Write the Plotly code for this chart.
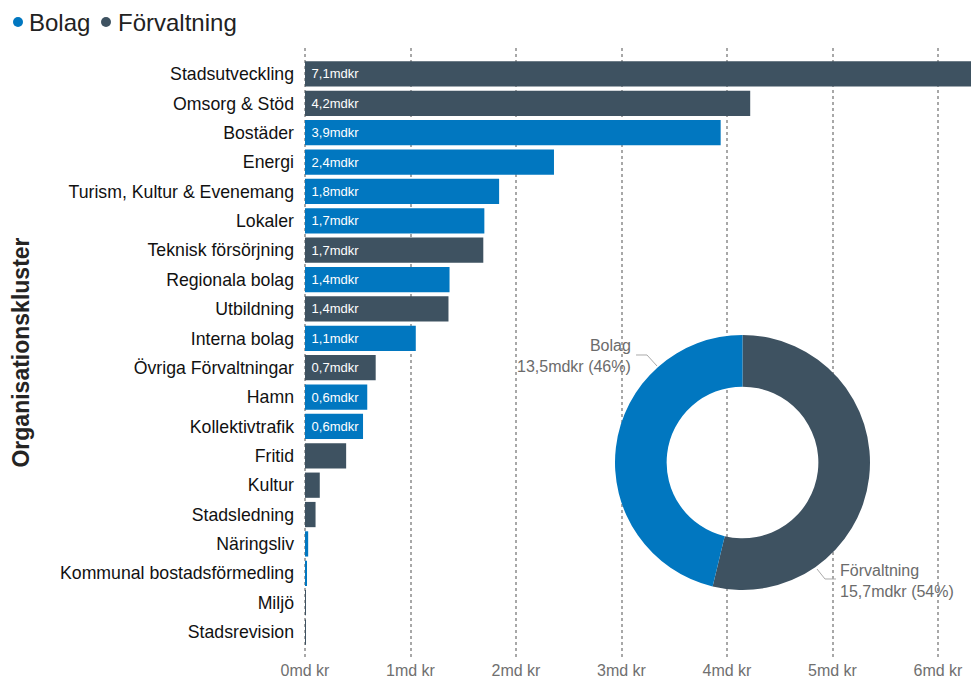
import plotly.graph_objects as go

# ---- data ----
categories = ["Stadsutveckling", "Omsorg & Stöd", "Bostäder", "Energi",
              "Turism, Kultur & Evenemang", "Lokaler", "Teknisk försörjning",
              "Regionala bolag", "Utbildning", "Interna bolag",
              "Övriga Förvaltningar", "Hamn", "Kollektivtrafik", "Fritid",
              "Kultur", "Stadsledning", "Näringsliv",
              "Kommunal bostadsförmedling", "Miljö", "Stadsrevision"]
values = [7.10, 4.22, 3.94, 2.36, 1.84, 1.70, 1.69, 1.37, 1.36, 1.05,
          0.67, 0.59, 0.55, 0.39, 0.14, 0.10, 0.03, 0.015, 0.008, 0.003]
types = ["Förvaltning", "Förvaltning", "Bolag", "Bolag", "Bolag", "Bolag",
         "Förvaltning", "Bolag", "Förvaltning", "Bolag", "Förvaltning",
         "Bolag", "Bolag", "Förvaltning", "Förvaltning", "Förvaltning",
         "Bolag", "Bolag", "Förvaltning", "Förvaltning"]
bar_labels = ["7,1mdkr", "4,2mdkr", "3,9mdkr", "2,4mdkr", "1,8mdkr", "1,7mdkr",
              "1,7mdkr", "1,4mdkr", "1,4mdkr", "1,1mdkr", "0,7mdkr", "0,6mdkr",
              "0,6mdkr", "", "", "", "", "", "", ""]
tick_vals = [0, 1, 2, 3, 4, 5, 6]
tick_text = ["0md kr", "1md kr", "2md kr", "3md kr", "4md kr", "5md kr", "6md kr"]

legend_names = ["Bolag", "Förvaltning"]
donut_labels = ["Förvaltning", "Bolag"]
donut_values = [15.7, 13.5]
donut_text = {"Bolag": "13,5mdkr (46%)", "Förvaltning": "15,7mdkr (54%)"}

colors = {"Bolag": "#0177C0", "Förvaltning": "#3E5261"}

FONT = "Liberation Sans, Arial, sans-serif"
OFF = 8                      # page body margin offset
PAD = 3                      # px left of zero so the 0 gridline shows
W, H = 979 - OFF, 681 - OFF
ML, MR, MT, MB = 305 - PAD - OFF, 0, 48 - OFF, 24
PW, PH = W - ML - MR, H - MT - MB
X0 = -PAD / 105.5


def px(x, y):
    """screen pixel -> paper coordinates (for annotations/decoration)"""
    x, y = x - OFF, y - OFF
    return (x - ML) / PW, 1 - (y - MT) / PH


fig = go.Figure()

fig.add_trace(go.Bar(
    y=categories, x=values, orientation="h",
    marker=dict(color=[colors[t] for t in types], line=dict(width=0)),
    width=0.86,
    text=["\u00a0" + t if t else "" for t in bar_labels],
    textposition="inside", insidetextanchor="start",
    textfont=dict(color="white", size=13, family=FONT),
    cliponaxis=True, showlegend=False, hoverinfo="x+y",
))

# donut inset
cx, cy = px(742.5, 462.5)
rx, ry = 127.5 / PW, 127.5 / PH
fig.add_trace(go.Pie(
    labels=donut_labels, values=donut_values, hole=0.595, sort=False,
    direction="clockwise", rotation=0,
    marker=dict(colors=[colors[l] for l in donut_labels], line=dict(width=0)),
    textinfo="none", showlegend=False,
    domain=dict(x=[cx - rx, cx + rx], y=[cy - ry, cy + ry]),
))

# donut labels
bx, by = px(633, 356)
fig.add_annotation(x=bx, y=by, xref="paper", yref="paper", xanchor="right",
                   yanchor="middle", align="right", showarrow=False,
                   text=f"Bolag<br>{donut_text['Bolag']}",
                   font=dict(size=16, color="#6b6b6b", family=FONT))
fx, fy = px(838, 581)
fig.add_annotation(x=fx, y=fy, xref="paper", yref="paper", xanchor="left",
                   yanchor="middle", align="left", showarrow=False,
                   text=f"Förvaltning<br>{donut_text['Förvaltning']}",
                   font=dict(size=16, color="#6b6b6b", family=FONT))


# leader lines
def path(points):
    pts = [px(*p) for p in points]
    return "M " + " L ".join(f"{a:.4f},{b:.4f}" for a, b in pts)


for pts in ([(636, 355), (647, 355), (657, 366)],
            [(817, 569), (825, 579), (836, 579)]):
    fig.add_shape(type="path", xref="paper", yref="paper", path=path(pts),
                  line=dict(color="#aaaaaa", width=1))

# legend (dot + label)
for name, dot_x, text_x in zip(legend_names, [18, 106], [27, 116]):
    x0, y0 = px(dot_x - 5, 17)
    x1, y1 = px(dot_x + 5, 27)
    fig.add_shape(type="circle", xref="paper", yref="paper",
                  x0=x0, x1=x1, y0=y1, y1=y0,
                  fillcolor=colors[name], line=dict(width=0))
    tx, ty = px(text_x, 22)
    fig.add_annotation(x=tx, y=ty, xref="paper", yref="paper",
                       xanchor="left", yanchor="middle", showarrow=False,
                       text=name, font=dict(size=24, color="#222222",
                                            family=FONT))

fig.update_layout(
    width=W, height=H,
    margin=dict(l=ML, r=MR, t=MT, b=MB, autoexpand=False),
    paper_bgcolor="white", plot_bgcolor="white",
    font=dict(family=FONT, color="#222222"),
    uniformtext=dict(minsize=13, mode="show"),
    showlegend=False,
    xaxis=dict(range=[X0, X0 + PW / 105.5], tickvals=tick_vals,
               ticktext=tick_text,
               showgrid=True, gridcolor="#a8a8a8", griddash="dot",
               gridwidth=1.5, zeroline=False, showline=False,
               tickfont=dict(size=16, color="#707070", family=FONT),
               ticks="", ticklabelstandoff=2, automargin=False,
               fixedrange=True),
    yaxis=dict(categoryorder="array", categoryarray=categories,
               range=[19.85, -0.885], showgrid=False, zeroline=False,
               ticks="", ticklabelstandoff=9 - PAD + 1, automargin=False,
               tickfont=dict(size=17.7, color="#111111", family=FONT),
               title=dict(text="<b>Organisationskluster</b>", standoff=30,
                          font=dict(size=23, color="#252423", family=FONT))),
)

fig.write_html("out.html")
